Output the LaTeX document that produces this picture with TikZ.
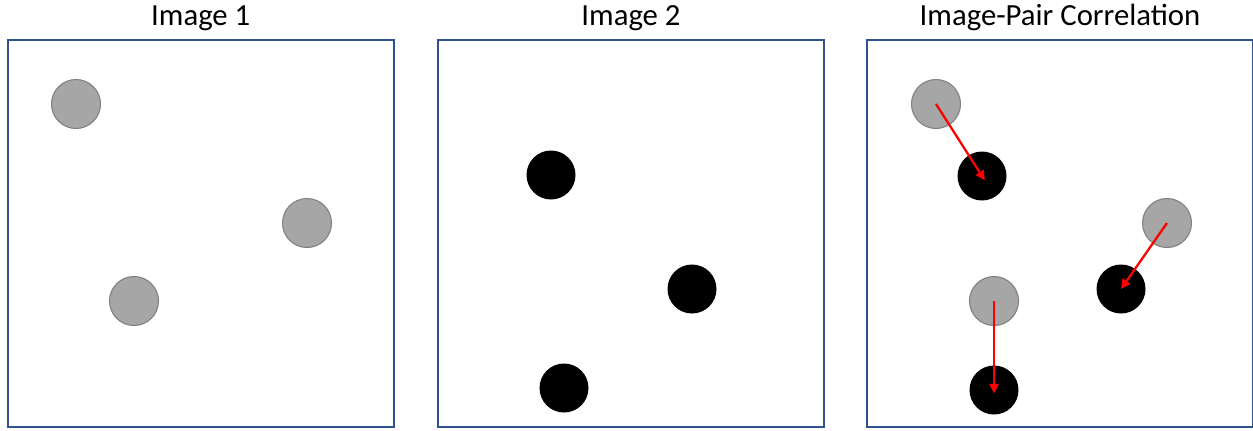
\documentclass[tikz,border=0pt]{standalone}
\usepackage{fontspec}
\setmainfont{Carlito}
\usetikzlibrary{arrows.meta}

\definecolor{frameblue}{RGB}{47,82,143}
\definecolor{spotgray}{RGB}{166,166,166}
\definecolor{spotedge}{RGB}{128,128,128}

\begin{document}
\begin{tikzpicture}[
    x=0.02cm, y=-0.02cm,
    every node/.style={font=\fontsize{17.5}{21}\selectfont},
    >={Triangle[length=5.5pt, width=5.2pt]},
    frame/.style={draw=frameblue, line width=0.9pt, minimum width=7.72cm, minimum height=7.74cm, inner sep=0pt},
    title/.style={anchor=base},
    before/.style={circle, fill=spotgray, draw=spotedge, line width=0.6pt, minimum size=0.98cm, inner sep=0pt},
    after/.style={circle, fill=black, minimum size=0.98cm, inner sep=0pt},
    move/.style={->, red, line width=1.3pt},
]

\useasboundingbox (0,0) rectangle (1253,430);
\clip (0,0) rectangle (1253,430);

% --- Frames ---
\node[frame] (img1) at (200.75, 233.5) {};
\node[frame] (img2) at (631, 233.5) {};
\node[frame] (corr) at (1060, 233.5) {};

% --- Titles ---
\node[title] (t1) at (200.75, 25) {Image 1};
\node[title] (t2) at (631, 25) {Image 2};
\node[title] (t3) at (1060, 25) {Image-Pair Correlation};

% --- Image 1 particles ---
\node[before] (p1a) at (76, 104) {};
\node[before] (p1b) at (307, 223) {};
\node[before] (p1c) at (134, 301) {};

% --- Image 2 particles ---
\node[after] (p2a) at (551, 175) {};
\node[after] (p2b) at (692, 289) {};
\node[after] (p2c) at (564, 388) {};

% --- Correlation ---
\node[before] (ga) at (936, 104) {};
\node[before] (gb) at (1167, 223) {};
\node[before] (gc) at (994, 301) {};
\node[after] (ba) at (982, 176) {};
\node[after] (bb) at (1121, 289) {};
\node[after] (bc) at (994, 390) {};

% --- Displacements ---
\draw[move, shorten >=-3pt] (ga.center) -- (ba.center);
\draw[move] (gb.center) -- (bb.center);
\draw[move, shorten >=-2pt] (gc.center) -- (bc.center);

\end{tikzpicture}
\end{document}
